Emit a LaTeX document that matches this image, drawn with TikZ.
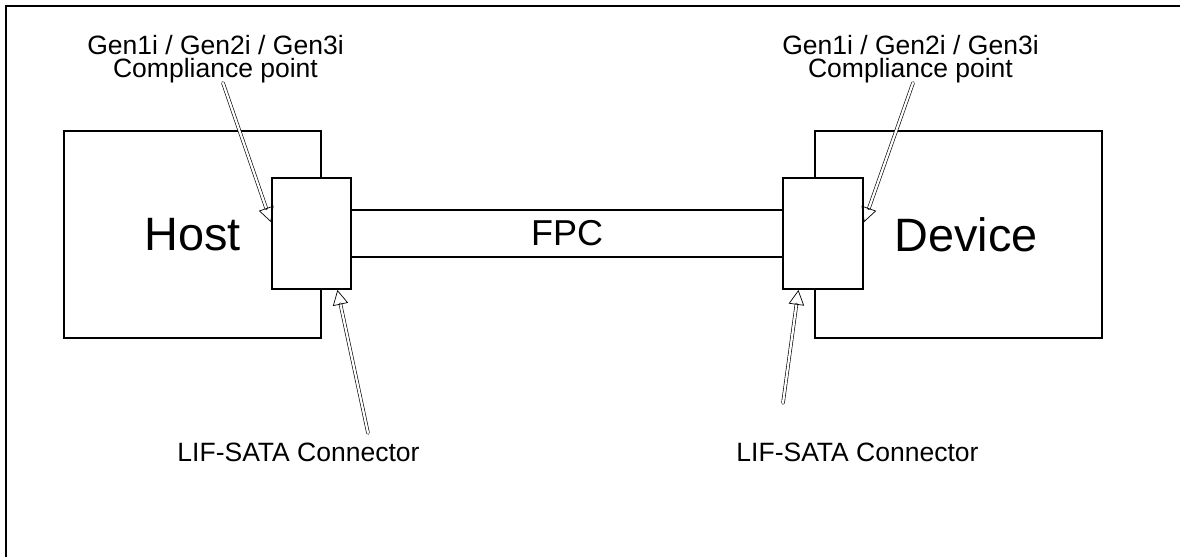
\documentclass[tikz,border=0pt]{standalone}
\usepackage{fontspec}
\setmainfont{Liberation Sans}
\usetikzlibrary{arrows.meta,calc}

\tikzset{
  box/.style={draw,line width=1.4pt,fill=white,inner sep=0pt},
  big/.style={font=\fontsize{33.3}{40}\selectfont},
  lbl/.style={font=\fontsize{18.85}{17}\selectfont,align=center,inner sep=0pt,anchor=base},
  ptr/.style={double,line width=0.45pt,double distance=1.6pt,line cap=round,
    -{Triangle[open,length=10.5pt,width=11pt,line width=0.5pt]}}
}

\begin{document}
\begin{tikzpicture}[x=0.025cm,y=-0.025cm]

\useasboundingbox (0,0) rectangle (1180,557);
\clip (0,0) rectangle (1180,557);
% outer frame, cut at the right and bottom
\draw[line width=1.8pt] (1190,5.8) -- (5.8,5.8) -- (5.8,570);

% host and device
\node[box,big,minimum width=6.425cm,minimum height=5.175cm] (host) at (192.5,234.5) {Host};
\node[box,minimum width=7.175cm,minimum height=5.175cm] (device) at (958.5,234.5) {};
\node[big] (devtext) at ($(device.center)+(7.5,0.5)$) {Device};

% cable and connectors
\node[box,font=\fontsize{25.6}{30}\selectfont,minimum width=10.8cm,minimum height=1.175cm] (fpc) at (567,233.5) {FPC};
\node[box,minimum width=1.975cm,minimum height=2.775cm] (hostcon) at (311.5,233.5) {};
\node[box,minimum width=2cm,minimum height=2.775cm] (devcon) at (823,233.5) {};

% labels
\node[lbl] (hostcp) at (215.5,78) {Gen1i / Gen2i / Gen3i\\Compliance point};
\node[lbl] (devcp) at (910.5,78) {Gen1i / Gen2i / Gen3i\\Compliance point};
\node[lbl] (hostlif) at (298.5,462) {LIF-SATA Connector};
\node[lbl] (devlif) at (857.5,462) {LIF-SATA Connector};

\coordinate (hostcpend) at (223,83);
\coordinate (devcpend) at (913,83);
\coordinate (hostlifend) at (368,433);
\coordinate (devlifend) at (783,403);

\draw[ptr] (hostcpend) -- ($(hostcon.north west)!0.4!(hostcon.south west)$);
\draw[ptr] (devcpend) -- ($(devcon.north east)!0.4!(devcon.south east)$);
\draw[ptr] (hostlifend) -- ($(hostcon.south west)!0.82!(hostcon.south east)$);
\draw[ptr] (devlifend) -- ($(devcon.south west)!0.2!(devcon.south east)$);

\end{tikzpicture}
\end{document}
